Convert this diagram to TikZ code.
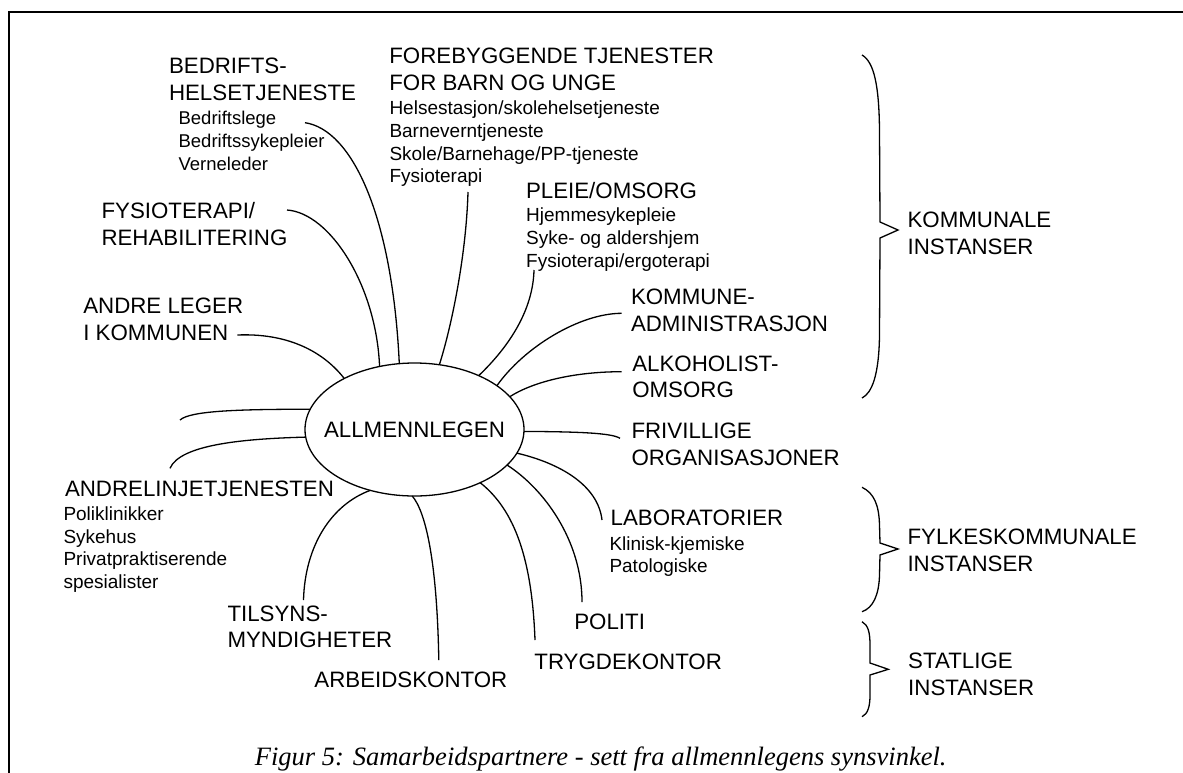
\documentclass[tikz,border=0pt]{standalone}
\usepackage{fontspec}
\setmainfont{Liberation Sans}
\newfontfamily\captionserif{Liberation Serif}
\usetikzlibrary{shapes.geometric}
\newcommand\hdsize{\fontsize{22.3}{26.7}\selectfont}
\newcommand\subsize{\fontsize{19}{22.6}\selectfont}
\newcommand\subsizeb{\fontsize{18.5}{22.6}\selectfont}
\begin{document}
\begin{tikzpicture}[x=1pt,y=-1pt,
  hd/.style={anchor=north west, inner sep=0pt, outer sep=0pt, align=left, font=\hdsize},
  sub/.style={anchor=north west, inner sep=0pt, outer sep=0pt, align=left, font=\subsize},
  link/.style={line width=1.3pt},
  brace/.style={line width=1.3pt, line join=miter},
  frame/.style={line width=2.3pt}]
\useasboundingbox (0,0) rectangle (1183,772);

% frame (only its top and left sides fall on the page)
\draw[frame] (9,790) -- (9,12.2) -- (1200,12.2);

% centre
\node[ellipse, draw, line width=1.3pt, minimum width=219pt, minimum height=133pt,
      inner sep=0pt, outer sep=0pt] (gp) at (414.5,429.5) {};
\node[font=\hdsize, inner sep=0pt] (gpt) at (gp.center) {ALLMENNLEGEN};

% partner labels
\node[hd]  (bh)  at (169,58)      {BEDRIFTS-\\HELSETJENESTE};
\node[sub, font=\subsizeb] (bs) at (178.6,111.5) {Bedriftslege\\Bedriftssykepleier\\Verneleder};
\node[hd]  (fh)  at (389.3,48.3)  {FOREBYGGENDE TJENESTER\\FOR BARN OG UNGE};
\node[sub] (fs)  at (389.5,101.2) {Helsestasjon/skolehelsetjeneste\\Barneverntjeneste\\Skole/Barnehage/PP-tjeneste\\Fysioterapi};
\node[hd]  (fyh) at (101.5,202.3) {FYSIOTERAPI/\\REHABILITERING};
\node[hd]  (ph)  at (526,182.3)   {PLEIE/OMSORG};
\node[sub] (ps)  at (526.2,208.1) {Hjemmesykepleie\\Syke- og aldershjem\\Fysioterapi/ergoterapi};
\node[hd]  (alh) at (83.3,298)    {ANDRE LEGER\\I KOMMUNEN};
\node[hd]  (ah)  at (65,481.3)    {ANDRELINJETJENESTEN};
\node[sub] (as)  at (63.5,506.9)  {Poliklinikker\\Sykehus\\Privatpraktiserende\\spesialister};
\node[hd]  (kh)  at (631,289)     {KOMMUNE-\\ADMINISTRASJON};
\node[hd]  (akh) at (632.3,355.7) {ALKOHOLIST-\\OMSORG};
\node[hd]  (frh) at (631.5,423)   {FRIVILLIGE\\ORGANISASJONER};
\node[hd]  (lh)  at (610.6,509.5) {LABORATORIER};
\node[sub] (ls)  at (609.5,536.4) {Klinisk-kjemiske\\Patologiske};
\node[hd]  (th)  at (227.5,605.7) {TILSYNS-\\MYNDIGHETER};
\node[hd]  (arh) at (314.4,672.3) {ARBEIDSKONTOR};
\node[hd]  (trh) at (534.4,654)   {TRYGDEKONTOR};
\node[hd]  (poh) at (574.3,614)   {POLITI};

% level labels
\node[hd] (kom) at (907.6,212.3) {KOMMUNALE\\INSTANSER};
\node[hd] (fyl) at (907.5,529)   {FYLKESKOMMUNALE\\INSTANSER};
\node[hd] (sta) at (908.2,653.3) {STATLIGE\\INSTANSER};

% free ends of the spokes
\coordinate (c-bed)    at (305,122.7);
\coordinate (c-fys)    at (287,210);
\coordinate (c-fore)   at (468,192);
\coordinate (c-andre)  at (237.3,335);
\coordinate (c-pleie)  at (534,270);
\coordinate (c-komm)   at (621.7,313.3);
\coordinate (c-alko)   at (621.7,371.7);
\coordinate (c-friv)   at (620,438.3);
\coordinate (c-lab)    at (602,520);
\coordinate (c-pol)    at (582,602);
\coordinate (c-tryg)   at (535,640);
\coordinate (c-arb)    at (438.8,660);
\coordinate (c-til)    at (303.5,600);
\coordinate (c-blank)  at (180,420);
\coordinate (c-andrel) at (170,468.3);

% spokes
\draw[link] (c-bed)   .. controls +(47,7)     and +(-7,-148.3) .. (gp.103.2);
\draw[link] (c-fys)   .. controls +(43,3)     and +(-3.3,-81)  .. (gp.119);
\draw[link] (c-fore)  .. controls +(-2,68)    and +(10.7,-33.3).. (gp.69.5);
\draw[link] (c-andre) .. controls +(47.7,-2)  and +(-22.7,-29) .. (gp.144.9);
\draw[link] (c-pleie) .. controls +(-1,40)    and +(30.7,-29.3).. (gp.40.4);
\draw[link] (c-komm)  .. controls +(-41.7,0)  and +(27.7,-39)  .. (gp.28.8);
\draw[link] (c-alko)  .. controls +(-46.7,0)  and +(24,-15.3)  .. (gp.19.5);
\draw[link] (gp.-1.1)   .. controls +(55,0.3)   and +(-8,-5.3)  .. (c-friv);
\draw[link] (gp.-13.9)  .. controls +(42.7,10)  and +(-4,-35)   .. (c-lab);
\draw[link] (gp.-21.5)  .. controls +(36.3,23.3) and +(0,-62)   .. (c-pol);
\draw[link] (gp.-39.9)  .. controls +(35,27.7)  and +(-3,-80)   .. (c-tryg);
\draw[link] (gp.-92.4)  .. controls +(13.3,15.3) and +(-1.8,-100) .. (c-arb);
\draw[link] (gp.-126.9) .. controls +(-38.3,14) and +(1.5,-55)  .. (c-til);
\draw[link] (gp.169.9)  .. controls +(-75,0)    and +(10,-9)    .. (c-blank);
\draw[link] (gp.184.6)  .. controls +(-65,1.7)  and +(10,-23.3) .. (c-andrel);

% braces
\draw[brace] (862,55) .. controls (874,62) and (879,85) .. (879.5,130)
  -- (880,222) -- (898,230) -- (880,238) -- (879.5,335)
  .. controls (879,375) and (872,393) .. (862,398);
\draw[brace] (862,487.3) .. controls (874,493) and (879,505) .. (879.5,525)
  -- (880,543) -- (898,549) -- (880,555) -- (879.5,575)
  .. controls (879,595) and (873,608) .. (862,611.7);
\draw[brace] (862,621.7) .. controls (868,625) and (870,632) .. (870,645)
  -- (870,663) -- (888.3,669.3) -- (870,675) -- (870,695)
  .. controls (870,706) and (868,714) .. (862,716.7);

% caption
\node[font=\captionserif\itshape\fontsize{26.5}{30}\selectfont, anchor=base, inner sep=0pt]
  (cap) at (600.7,765) {Figur 5: Samarbeidspartnere - sett fra allmennlegens synsvinkel.};
\end{tikzpicture}
\end{document}
